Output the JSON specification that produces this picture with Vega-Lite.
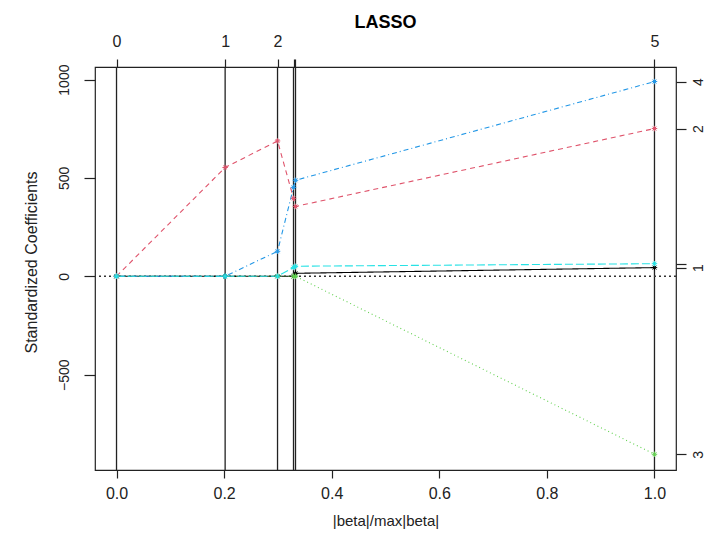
{
  "$schema": "https://vega.github.io/schema/vega-lite/v6.json",
  "width": 581,
  "height": 403,
  "autosize": {"type": "none"},
  "padding": {"left": 95, "top": 67, "right": 31, "bottom": 68},
  "background": "white",
  "title": {"text": "LASSO", "font": "Liberation Sans", "fontSize": 18, "fontWeight": "bold", "color": "#000", "anchor": "middle", "offset": 1},
  "config": {
    "view": {"stroke": "#222", "strokeWidth": 1.2},
    "axis": {
      "labelFont": "Liberation Sans", "titleFont": "Liberation Sans",
      "labelFontSize": 16, "titleFontSize": 15, "labelColor": "#222", "titleColor": "#222",
      "titleFontWeight": "normal", "tickColor": "#222", "tickWidth": 1.2,
      "domain": false, "grid": false, "labelOverlap": false, "labelFlush": false
    }
  },
  "datasets": {
    "coef": [
      {"step": 0, "frac": 0, "var": "1", "coef": 0},
      {"step": 1, "frac": 0.2019, "var": "1", "coef": 0},
      {"step": 2, "frac": 0.2993, "var": "1", "coef": 0},
      {"step": 3, "frac": 0.329, "var": "1", "coef": 0},
      {"step": 4, "frac": 0.3327, "var": "1", "coef": 15},
      {"step": 5, "frac": 1.0, "var": "1", "coef": 44},
      {"step": 0, "frac": 0, "var": "2", "coef": 0},
      {"step": 1, "frac": 0.2019, "var": "2", "coef": 553},
      {"step": 2, "frac": 0.2993, "var": "2", "coef": 688},
      {"step": 3, "frac": 0.329, "var": "2", "coef": 396},
      {"step": 4, "frac": 0.3327, "var": "2", "coef": 355},
      {"step": 5, "frac": 1.0, "var": "2", "coef": 751},
      {"step": 0, "frac": 0, "var": "3", "coef": 0},
      {"step": 1, "frac": 0.2019, "var": "3", "coef": 0},
      {"step": 2, "frac": 0.2993, "var": "3", "coef": 0},
      {"step": 3, "frac": 0.329, "var": "3", "coef": 0},
      {"step": 4, "frac": 0.3327, "var": "3", "coef": 0},
      {"step": 5, "frac": 1.0, "var": "3", "coef": -905},
      {"step": 0, "frac": 0, "var": "4", "coef": 0},
      {"step": 1, "frac": 0.2019, "var": "4", "coef": 0},
      {"step": 2, "frac": 0.2993, "var": "4", "coef": 127},
      {"step": 3, "frac": 0.329, "var": "4", "coef": 452},
      {"step": 4, "frac": 0.3327, "var": "4", "coef": 488},
      {"step": 5, "frac": 1.0, "var": "4", "coef": 990},
      {"step": 0, "frac": 0, "var": "5", "coef": 0},
      {"step": 1, "frac": 0.2019, "var": "5", "coef": 0},
      {"step": 2, "frac": 0.2993, "var": "5", "coef": 0},
      {"step": 3, "frac": 0.329, "var": "5", "coef": 45},
      {"step": 4, "frac": 0.3327, "var": "5", "coef": 51},
      {"step": 5, "frac": 1.0, "var": "5", "coef": 64}
    ],
    "steps": [
      {"step": 0, "frac": 0},
      {"step": 1, "frac": 0.2019},
      {"step": 2, "frac": 0.2993},
      {"step": 3, "frac": 0.329},
      {"step": 4, "frac": 0.3327},
      {"step": 5, "frac": 1.0}
    ]
  },
  "layer": [
    {
      "data": {"name": "steps"},
      "mark": {"type": "rule", "color": "#222", "strokeWidth": 1.3},
      "encoding": {
        "x": {"field": "frac", "type": "quantitative",
              "scale": {"domain": [-0.04, 1.04], "nice": false, "zero": false},
              "axis": {"orient": "bottom", "values": [0, 0.2, 0.4, 0.6, 0.8, 1.0], "format": ".1f",
                       "tickSize": 8, "labelPadding": 7, "title": "|beta|/max|beta|", "titlePadding": 12}}
      }
    },
    {
      "data": {"values": [{"h": 0}]},
      "mark": {"type": "rule", "color": "#333", "strokeWidth": 1.3, "strokeDash": [2, 3]},
      "encoding": {
        "y": {"field": "h", "type": "quantitative", "axis": null,
              "scale": {"domain": [-985, 1064], "nice": false, "zero": false}}
      }
    },
    {
      "data": {"name": "coef"},
      "mark": {"type": "line", "strokeWidth": 1.1},
      "encoding": {
        "x": {"field": "frac", "type": "quantitative",
              "scale": {"domain": [-0.04, 1.04], "nice": false, "zero": false},
              "axis": {"orient": "top", "values": [0, 0.2019, 0.2993, 0.329, 0.3327, 1.0],
                       "labelExpr": "datum.value == 0 ? '0' : datum.value < 0.25 ? '1' : datum.value < 0.3 ? '2' : datum.value > 0.9 ? '5' : ''",
                       "tickSize": 8, "labelPadding": 10, "title": null}},
        "y": {"field": "coef", "type": "quantitative",
              "scale": {"domain": [-985, 1064], "nice": false, "zero": false},
              "axis": {"orient": "left", "values": [-500, 0, 500, 1000], "format": "d", "labelAngle": -90,
                       "labelAlign": "center", "labelBaseline": "bottom", "labelFontSize": 14,
                       "tickSize": 11, "labelPadding": 13,
                       "title": "Standardized Coefficients", "titleFontSize": 16, "titlePadding": 18, "titleY": 195}},
        "color": {"field": "var", "type": "nominal", "legend": null,
                  "scale": {"domain": ["1", "2", "3", "4", "5"],
                            "range": ["#000000", "#DF536B", "#61D04F", "#2297E6", "#28E2E5"]}},
        "strokeDash": {"field": "var", "type": "nominal", "legend": null,
                       "scale": {"domain": ["1", "2", "3", "4", "5"],
                                 "range": [[1, 0], [5, 4], [1, 3], [1, 3, 5, 3], [8, 3]]}},
        "order": {"field": "step", "type": "quantitative"}
      }
    },
    {
      "data": {"name": "coef"},
      "mark": {"type": "point", "shape": "M-1,0L1,0M0,-1L0,1M-0.7,-0.7L0.7,0.7M-0.7,0.7L0.7,-0.7",
               "filled": false, "size": 30, "strokeWidth": 1, "opacity": 1},
      "encoding": {
        "x": {"field": "frac", "type": "quantitative", "axis": null,
              "scale": {"domain": [-0.04, 1.04], "nice": false, "zero": false}},
        "y": {"field": "coef", "type": "quantitative", "axis": null,
              "scale": {"domain": [-985, 1064], "nice": false, "zero": false}},
        "color": {"field": "var", "type": "nominal", "legend": null,
                  "scale": {"domain": ["1", "2", "3", "4", "5"],
                            "range": ["#000000", "#DF536B", "#61D04F", "#2297E6", "#28E2E5"]}}
      }
    },
    {
      "data": {"name": "coef"},
      "transform": [{"filter": "datum.step == 5"}],
      "mark": {"type": "point", "opacity": 0},
      "encoding": {
        "y": {"field": "coef", "type": "quantitative",
              "scale": {"domain": [-985, 1064], "nice": false, "zero": false},
              "axis": {"orient": "right", "values": [990, 751, 64, 44, -905], "labelAngle": -90,
                       "labelAlign": "center", "labelBaseline": "top", "labelFontSize": 14,
                       "labelExpr": "datum.value > 900 ? '4' : datum.value > 700 ? '2' : datum.value > 50 ? '' : datum.value > 0 ? '1' : '3'",
                       "tickSize": 10, "labelPadding": 5, "title": null}}
      }
    }
  ],
  "resolve": {"axis": {"x": "independent", "y": "independent"}}
}
